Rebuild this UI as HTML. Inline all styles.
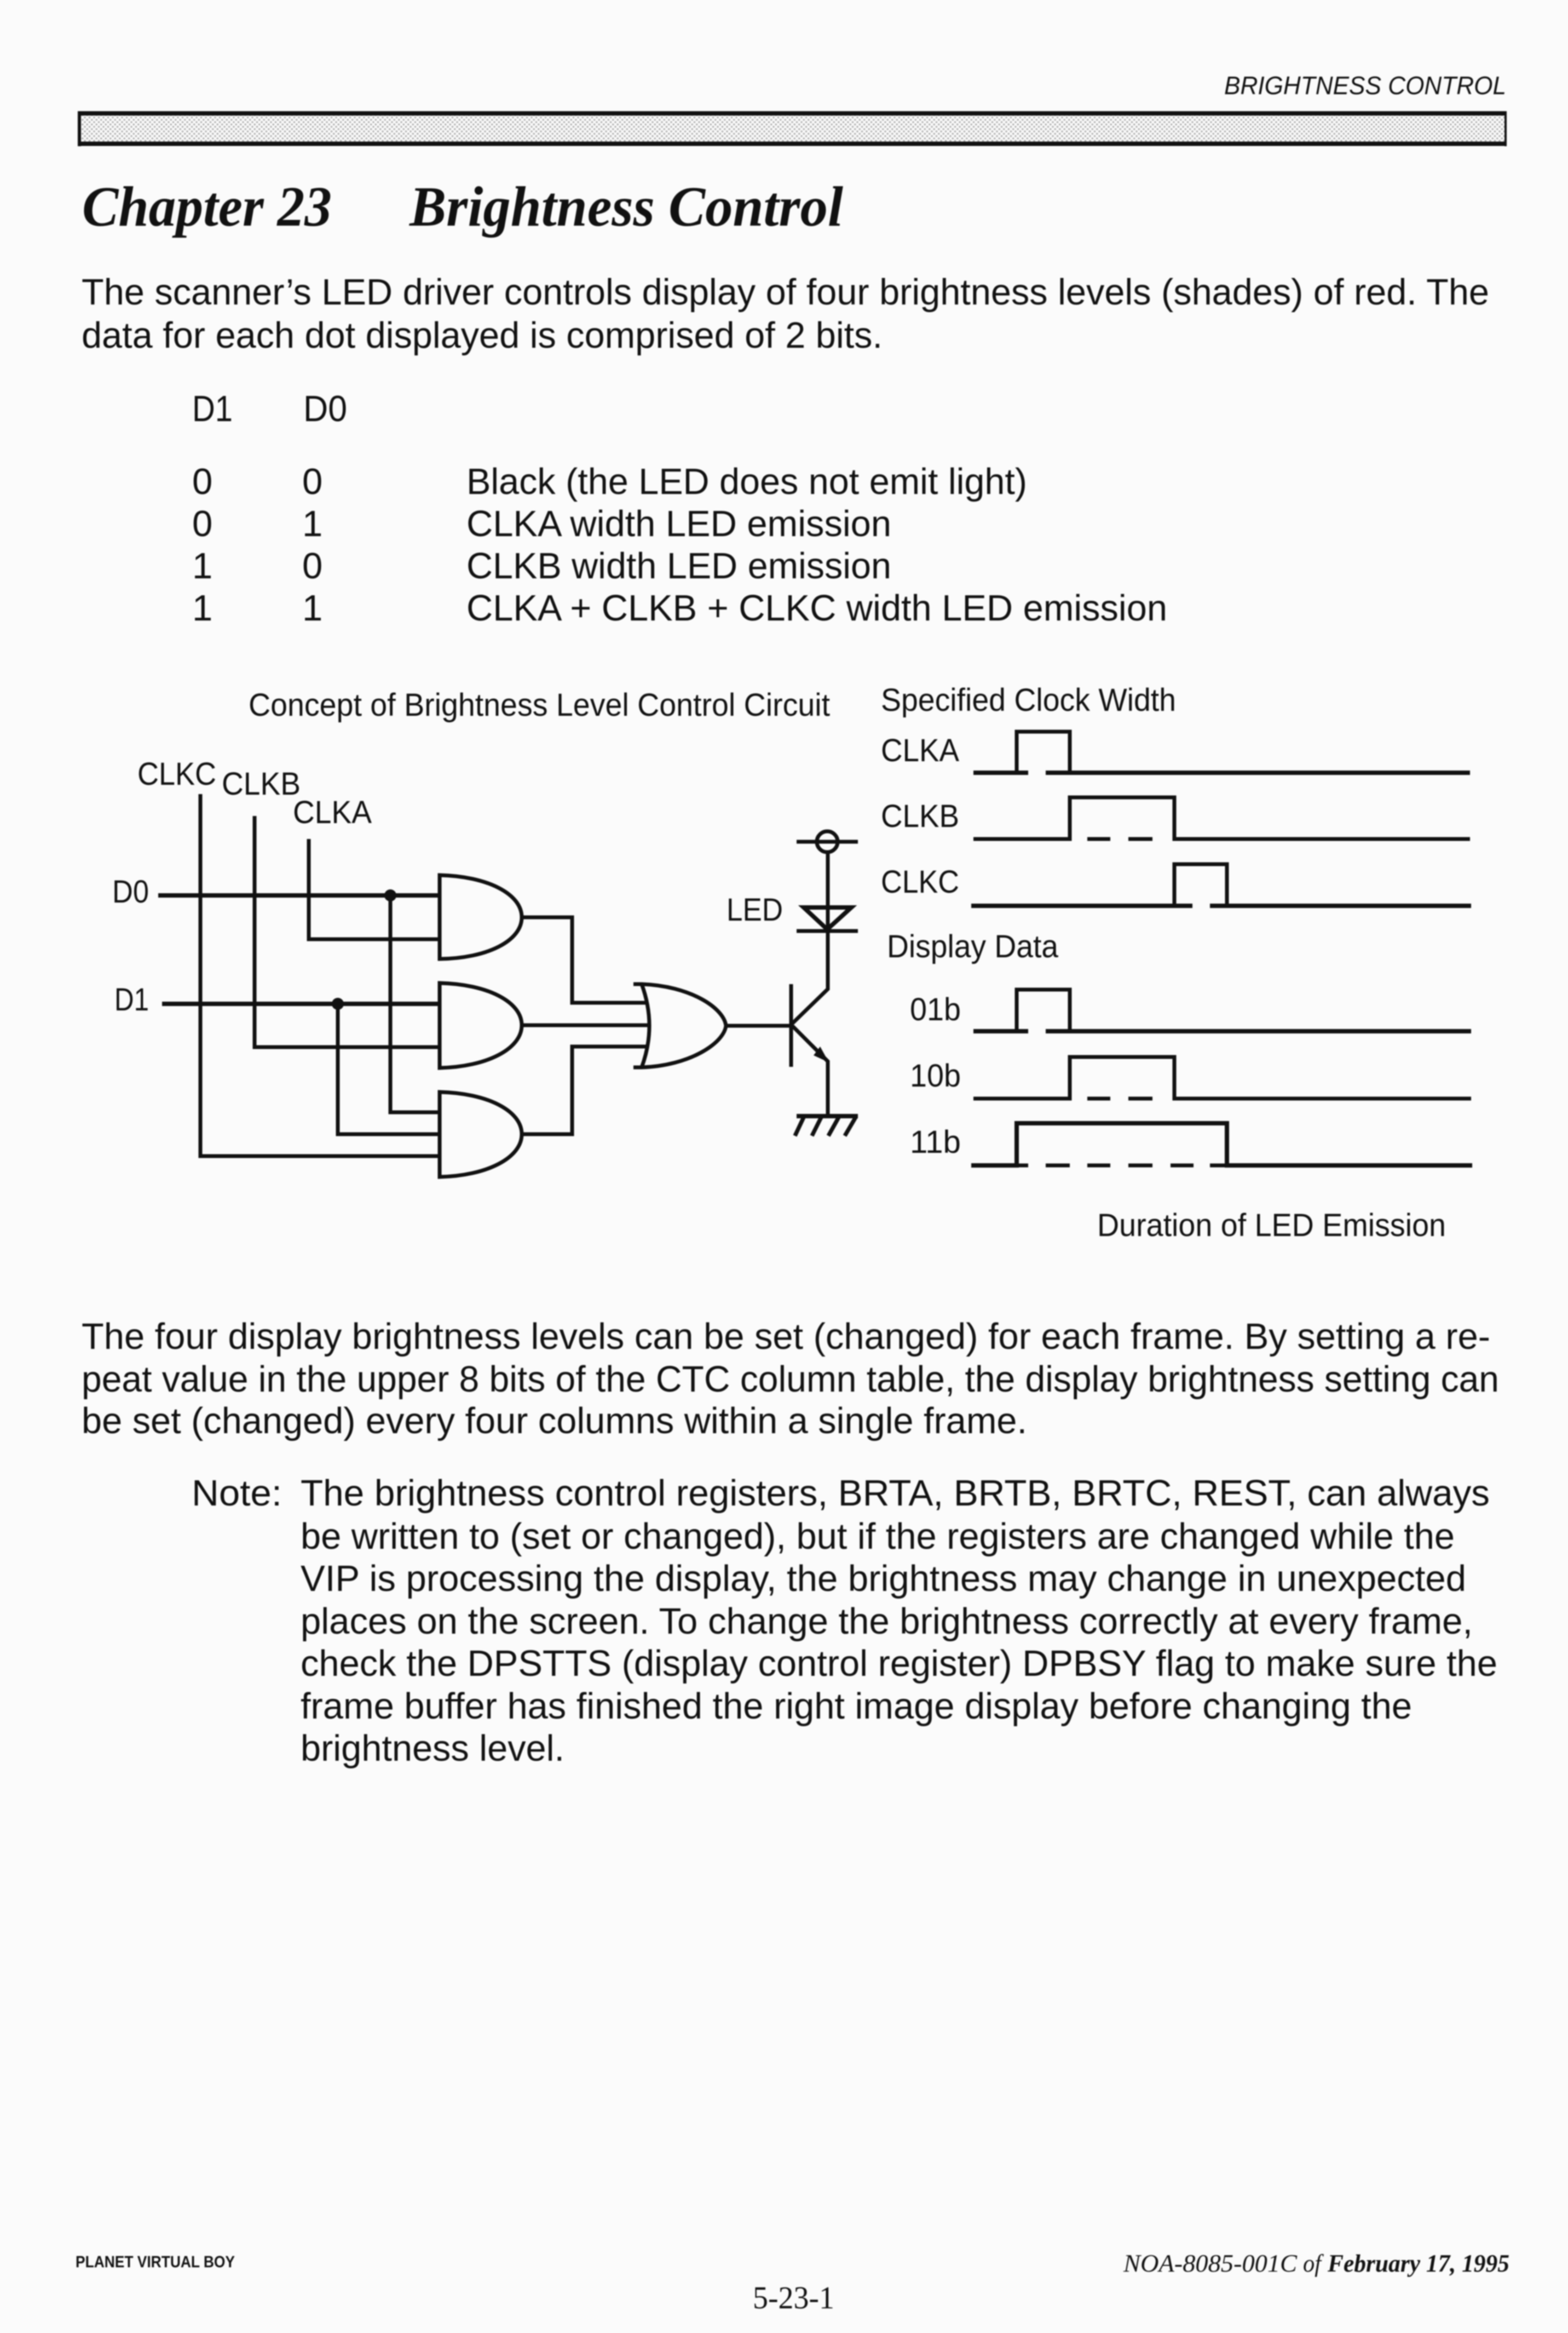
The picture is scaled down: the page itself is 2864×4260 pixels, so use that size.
<!DOCTYPE html>
<html><head><meta charset="utf-8"><style>
html,body{margin:0;padding:0;background:#fbfbfb;width:2864px;height:4260px;overflow:hidden}
svg{display:block;filter:blur(1px)}
text{font-family:"Liberation Sans",sans-serif;font-size:67px;fill:#111}
.s{font-size:58px}
.w{fill:none;stroke:#111;stroke-width:7;stroke-linejoin:miter}
</style></head><body>
<svg xmlns="http://www.w3.org/2000/svg" width="2864" height="4260" viewBox="0 0 2864 4260">
<defs><pattern id="ht" width="8.5" height="8.5" patternUnits="userSpaceOnUse"><rect width="8.5" height="8.5" fill="#fafafa"/><circle cx="2" cy="2" r="1.8" fill="#b0b0b0"/><circle cx="6.25" cy="6.25" r="1.8" fill="#b0b0b0"/></pattern></defs>
<rect width="2864" height="4260" fill="#fbfbfb"/>

<text x="2236" y="172" font-style="italic" style="font-size:46px" textLength="515" lengthAdjust="spacingAndGlyphs">BRIGHTNESS CONTROL</text>
<rect x="146" y="207" width="2604" height="55" fill="url(#ht)"/>
<path d="M142 207H2752M142 262.500H2752" stroke="#111" stroke-width="8" fill="none"/>
<path d="M145 203V267" stroke="#111" stroke-width="6" fill="none"/>
<path d="M2750 203V267" stroke="#111" stroke-width="4" fill="none"/>
<text x="150" y="412" style="font-family:'Liberation Serif',serif;font-size:104px;font-weight:bold;font-style:italic" textLength="456" lengthAdjust="spacingAndGlyphs">Chapter 23</text>
<text x="748" y="412" style="font-family:'Liberation Serif',serif;font-size:104px;font-weight:bold;font-style:italic" textLength="792" lengthAdjust="spacingAndGlyphs">Brightness Control</text>

<text x="149" y="556" textLength="2571" lengthAdjust="spacingAndGlyphs">The scanner’s LED driver controls display of four brightness levels (shades) of red. The</text>
<text x="149" y="635" textLength="1463" lengthAdjust="spacingAndGlyphs">data for each dot displayed is comprised of 2 bits.</text>
<text x="351" y="769" textLength="74" lengthAdjust="spacingAndGlyphs">D1</text><text x="554" y="769" textLength="80" lengthAdjust="spacingAndGlyphs">D0</text>
<text x="351" y="902">0</text><text x="552" y="902">0</text>
<text x="852" y="902" textLength="1024" lengthAdjust="spacingAndGlyphs">Black (the LED does not emit light)</text>
<text x="351" y="979">0</text><text x="552" y="979">1</text>
<text x="852" y="979" textLength="776" lengthAdjust="spacingAndGlyphs">CLKA width LED emission</text>
<text x="351" y="1056">1</text><text x="552" y="1056">0</text>
<text x="852" y="1056" textLength="776" lengthAdjust="spacingAndGlyphs">CLKB width LED emission</text>
<text x="351" y="1133">1</text><text x="552" y="1133">1</text>
<text x="852" y="1133" textLength="1280" lengthAdjust="spacingAndGlyphs">CLKA + CLKB + CLKC width LED emission</text>

<text class="s" x="454" y="1307" textLength="1062" lengthAdjust="spacingAndGlyphs">Concept of Brightness Level Control Circuit</text>
<text class="s" x="251" y="1433" textLength="144" lengthAdjust="spacingAndGlyphs">CLKC</text>
<text class="s" x="405" y="1451" textLength="144" lengthAdjust="spacingAndGlyphs">CLKB</text>
<text class="s" x="535" y="1503" textLength="144" lengthAdjust="spacingAndGlyphs">CLKA</text>
<text class="s" x="205" y="1648" textLength="67" lengthAdjust="spacingAndGlyphs">D0</text>
<text class="s" x="209" y="1845" textLength="63" lengthAdjust="spacingAndGlyphs">D1</text>
<text class="s" x="1327" y="1681" textLength="103" lengthAdjust="spacingAndGlyphs">LED</text>

<g class="w">
<path d="M366 1450V2111H803"/>
<path d="M465 1490V1912H803"/>
<path d="M564 1532V1715H803"/>
<path d="M289 1635H803" stroke-width="8"/>
<path d="M296 1833H803" stroke-width="8"/>
<path d="M713 1635V2031H803"/>
<path d="M617 1833V2071H803"/>
<path d="M803 1598C890 1600 953 1632 953 1675C953 1718 890 1750 803 1751Z"/>
<path d="M803 1795C890 1797 953 1829 953 1872C953 1915 890 1948 803 1950Z"/>
<path d="M803 1994C890 1996 953 2028 953 2071C953 2114 890 2147 803 2149Z"/>
<path d="M953 1675H1045V1831H1181"/>
<path d="M953 1872H1186"/>
<path d="M953 2071H1045V1911H1181"/>
<path d="M1157 1797H1172C1260 1800 1322 1840 1326 1873C1322 1905 1260 1946 1172 1949H1157"/>
<path d="M1172 1797Q1200 1873 1172 1949"/>
<path d="M1326 1873H1446"/>
<path d="M1445 1797V1948"/>
<path d="M1447 1869L1512 1806V1559"/>
<path d="M1447 1873L1512 1938V2036"/>
<path d="M1455 1537H1567"/>
<ellipse cx="1511" cy="1537" rx="19" ry="19"/>
<path d="M1468 1657H1555L1511 1697Z" stroke-width="8"/>
<path d="M1455 1700H1567"/>
<path d="M1512 1700V1806"/>
<path d="M1455 2038H1567" stroke-width="8"/>
<path d="M1468 2040L1452 2074M1500 2040L1483 2074M1532 2040L1513 2074M1563 2040L1543 2074" stroke-width="7.500"/>
</g>
<circle cx="713" cy="1635" r="11" fill="#111"/>
<circle cx="617" cy="1833" r="11" fill="#111"/>
<path d="M1486 1927L1514 1940L1498 1911Z" fill="#111"/>

<text class="s" x="1609" y="1298" textLength="539" lengthAdjust="spacingAndGlyphs">Specified Clock Width</text>
<text class="s" x="1609" y="1390" textLength="143" lengthAdjust="spacingAndGlyphs">CLKA</text>
<text class="s" x="1609" y="1510" textLength="143" lengthAdjust="spacingAndGlyphs">CLKB</text>
<text class="s" x="1609" y="1630" textLength="143" lengthAdjust="spacingAndGlyphs">CLKC</text>
<text class="s" x="1620" y="1748" textLength="313" lengthAdjust="spacingAndGlyphs">Display Data</text>
<text class="s" x="1662" y="1863" textLength="93" lengthAdjust="spacingAndGlyphs">01b</text>
<text class="s" x="1662" y="1984" textLength="93" lengthAdjust="spacingAndGlyphs">10b</text>
<text class="s" x="1662" y="2105" textLength="93" lengthAdjust="spacingAndGlyphs">11b</text>
<text class="s" x="2004" y="2257" textLength="637" lengthAdjust="spacingAndGlyphs">Duration of LED Emission</text>

<g class="w">
<path d="M1778 1411H1878M1910 1411H2685" stroke-width="8"/><path d="M1857 1411V1336H1954V1411"/>
<path d="M1778 1532H1954V1456H2145V1532H2685"/><path d="M1986 1532H2028M2061 1532H2105"/>
<path d="M1774 1654H2178M2210 1654H2687" stroke-width="8"/><path d="M2145 1654V1578H2241V1654"/>
<path d="M1778 1883H1878M1910 1883H2687" stroke-width="8"/><path d="M1857 1883V1807H1954V1883"/>
<path d="M1778 2006H1954V1930H2145V2006H2687"/><path d="M1986 2006H2028M2061 2006H2105"/>
<path d="M1774 2128H1857V2051H2241V2128H2689" stroke-width="8"/><path d="M1857 2128H1878M1910 2128H1954M1986 2128H2028M2061 2128H2105M2138 2128H2180M2210 2128H2241"/>
</g>

<text x="149" y="2463" textLength="2573" lengthAdjust="spacingAndGlyphs">The four display brightness levels can be set (changed) for each frame. By setting a re-</text>
<text x="149" y="2541" textLength="2589" lengthAdjust="spacingAndGlyphs">peat value in the upper 8 bits of the CTC column table, the display brightness setting can</text>
<text x="149" y="2617" textLength="1727" lengthAdjust="spacingAndGlyphs">be set (changed) every four columns within a single frame.</text>
<text x="350" y="2749" textLength="165" lengthAdjust="spacingAndGlyphs">Note:</text>
<text x="549" y="2749" textLength="2172" lengthAdjust="spacingAndGlyphs">The brightness control registers, BRTA, BRTB, BRTC, REST, can always</text>
<text x="549" y="2828" textLength="2108" lengthAdjust="spacingAndGlyphs">be written to (set or changed), but if the registers are changed while the</text>
<text x="549" y="2905" textLength="2129" lengthAdjust="spacingAndGlyphs">VIP is processing the display, the brightness may change in unexpected</text>
<text x="549" y="2983" textLength="2141" lengthAdjust="spacingAndGlyphs">places on the screen. To change the brightness correctly at every frame,</text>
<text x="549" y="3060" textLength="2186" lengthAdjust="spacingAndGlyphs">check the DPSTTS (display control register) DPBSY flag to make sure the</text>
<text x="549" y="3138" textLength="2030" lengthAdjust="spacingAndGlyphs">frame buffer has finished the right image display before changing the</text>
<text x="549" y="3215" textLength="482" lengthAdjust="spacingAndGlyphs">brightness level.</text>

<text x="138" y="4140" style="font-size:30px;font-weight:bold" textLength="291" lengthAdjust="spacingAndGlyphs">PLANET VIRTUAL BOY</text>
<text x="2052" y="4148" style="font-family:'Liberation Serif',serif;font-size:46px;font-style:italic" textLength="317" lengthAdjust="spacingAndGlyphs">NOA-8085-001C</text>
<text x="2380" y="4148" style="font-family:'Liberation Serif',serif;font-size:46px;font-style:italic" textLength="33" lengthAdjust="spacingAndGlyphs">of</text>
<text x="2425" y="4148" style="font-family:'Liberation Serif',serif;font-size:46px;font-style:italic;font-weight:bold" textLength="332" lengthAdjust="spacingAndGlyphs">February 17, 1995</text>
<text x="1375" y="4215" style="font-family:'Liberation Serif',serif;font-size:58px" textLength="149" lengthAdjust="spacingAndGlyphs">5-23-1</text>
</svg>
</body></html>
